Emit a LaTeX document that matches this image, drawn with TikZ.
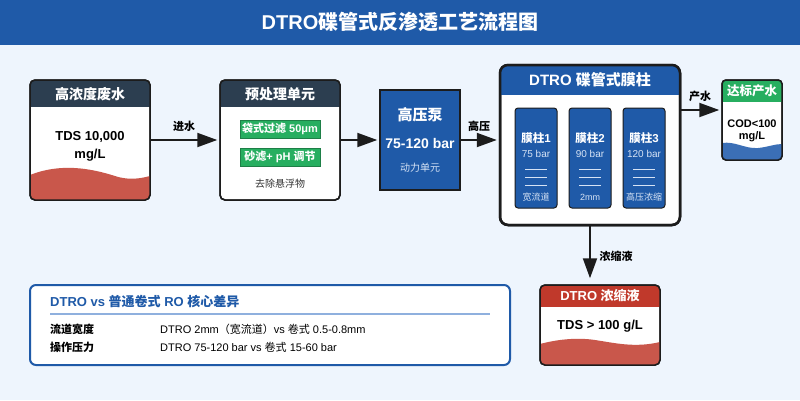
\documentclass[tikz,border=0pt]{standalone}
\usepackage{fontspec}
\setmainfont{Liberation Sans}
\newfontfamily\cjk{Noto Sans CJK SC}
\newcommand\zh[1]{{\cjk #1}}
\usetikzlibrary{arrows.meta}
\definecolor{bg}{HTML}{EEF5FD}
\definecolor{titleblue}{HTML}{1F5AA8}
\definecolor{darkhead}{HTML}{2C3E50}
\definecolor{wavered}{HTML}{C9574B}
\definecolor{headred}{HTML}{C0392B}
\definecolor{tagg}{HTML}{27AE60}
\definecolor{tagb}{HTML}{1E7F47}
\definecolor{bordc}{HTML}{1C1C1C}
\definecolor{lightt}{HTML}{D6E3F5}
\definecolor{waveblue}{HTML}{3B6FB6}
\definecolor{sepblue}{HTML}{8FB0DE}
\begin{document}
\begin{tikzpicture}[x=1pt,y=-1pt,
  card/.style={draw=bordc,line width=1.5pt,fill=white,rounded corners=5pt,inner sep=0pt},
  headtxt/.style={text=white,font=\bfseries\fontsize{14}{16}\selectfont},
  bodytxt/.style={text=black,font=\bfseries\fontsize{13}{18}\selectfont,align=center},
  tag/.style={fill=tagg,draw=tagb,line width=1pt,text=white,font=\bfseries\fontsize{11}{13}\selectfont,minimum width=80pt,minimum height=18pt,inner sep=0pt},
  arr/.style={draw=bordc,line width=2pt,-{Triangle[length=20pt,width=14pt]}},
  arrlab/.style={font=\bfseries\fontsize{11}{13}\selectfont,text=black},
  col/.style={fill=titleblue,draw=bordc,line width=1pt,rounded corners=3pt,minimum width=42pt,minimum height=100pt,inner sep=0pt},
  coltitle/.style={text=white,font=\bfseries\fontsize{11.5}{14}\selectfont},
  colsub/.style={text=lightt,font=\fontsize{10}{12}\selectfont},
  colnote/.style={text=lightt,font=\fontsize{9}{11}\selectfont},
  colline/.style={draw=lightt,line width=1pt},
  rowlab/.style={anchor=west,inner sep=0pt,font=\bfseries\fontsize{11}{13}\selectfont,text=black},
  rowval/.style={anchor=west,inner sep=0pt,font=\fontsize{11}{13}\selectfont,text=black}
]
\useasboundingbox (0,0) rectangle (800,400);
\fill[bg] (0,0) rectangle (800,400);
\fill[titleblue] (0,0) rectangle (800,45);
\node[text=white,font=\bfseries\fontsize{20}{24}\selectfont] (title) at (400,22) {DTRO\zh{碟管式反渗透工艺流程图}};

% ---- Box 1: feed
\node[card,minimum width=120pt,minimum height=120pt] (feed) at (90,140) {};
\begin{scope}
  \clip[rounded corners=5pt] (30,80) rectangle (150,200);
  \fill[darkhead] (30,80) rectangle (150,107);
  \fill[wavered] (30,175) .. controls (60,163) and (90,168) .. (115,176) .. controls (130,181) and (142,178) .. (150,176) -- (150,200) -- (30,200) -- cycle;
\end{scope}
\draw[bordc,line width=1.5pt,rounded corners=5pt] (30,80) rectangle (150,200);
\node[headtxt] (feedh) at (90,94) {\zh{高浓度废水}};
\node[bodytxt] (feedt) at (90,146) {TDS 10,000\\mg/L};

% ---- Box 2: pretreatment
\node[card,minimum width=120pt,minimum height=120pt] (pre) at (280,140) {};
\begin{scope}
  \clip[rounded corners=5pt] (220,80) rectangle (340,200);
  \fill[darkhead] (220,80) rectangle (340,107);
\end{scope}
\draw[bordc,line width=1.5pt,rounded corners=5pt] (220,80) rectangle (340,200);
\node[headtxt] (preh) at (280,94) {\zh{预处理单元}};
\node[tag] (t1) at (280,129) {\zh{袋式过滤} 50μm};
\node[tag] (t2) at (280,157) {\zh{砂滤}+ pH \zh{调节}};
\node[text=black!80,font=\fontsize{10}{12}\selectfont] (pret) at (280,184) {\zh{去除悬浮物}};

% ---- Pump
\node[fill=titleblue,draw=bordc,line width=1.5pt,minimum width=80pt,minimum height=100pt,inner sep=0pt] (pump) at (420,140) {};
\node[text=white,font=\bfseries\fontsize{15}{17}\selectfont] (pumph) at (420,115) {\zh{高压泵}};
\node[text=white,font=\bfseries\fontsize{14}{16}\selectfont] (pumpp) at (420,143) {75-120 bar};
\node[text=lightt,font=\fontsize{10}{12}\selectfont] (pumpn) at (420,168) {\zh{动力单元}};

% ---- DTRO module
\node[card,rounded corners=8pt,line width=2.5pt,minimum width=180pt,minimum height=160pt] (dtro) at (590,145) {};
\begin{scope}
  \clip[rounded corners=8pt] (500,65) rectangle (680,225);
  \fill[titleblue] (500,65) rectangle (680,95);
\end{scope}
\draw[bordc,line width=2.5pt,rounded corners=8pt] (500,65) rectangle (680,225);
\node[text=white,font=\bfseries\fontsize{15}{17}\selectfont] (dtroh) at (590,80) {DTRO \zh{碟管式膜柱}};

\foreach \cx/\n/\p/\note in {536/1/75 bar/\zh{宽流道},590/2/90 bar/2mm,644/3/120 bar/\zh{高压浓缩}}{
  \node[col] (col\n) at (\cx,158) {};
  \node[coltitle] (colt\n) at (\cx,138) {\zh{膜柱}\n};
  \node[colsub] (colp\n) at (\cx,154) {\p};
  \draw[colline] (\cx-11,169.5) -- (\cx+11,169.5);
  \draw[colline] (\cx-11,177.5) -- (\cx+11,177.5);
  \draw[colline] (\cx-11,185.5) -- (\cx+11,185.5);
  \node[colnote] (coln\n) at (\cx,197) {\note};
}

% ---- Product
\node[card,rounded corners=4pt,minimum width=60pt,minimum height=80pt] (prod) at (752,120) {};
\begin{scope}
  \clip[rounded corners=4pt] (722,80) rectangle (782,160);
  \fill[tagg] (722,80) rectangle (782,102);
  \fill[waveblue] (722,143) .. controls (735,141) and (745,149) .. (758,148) .. controls (768,147) and (775,144) .. (782,144) -- (782,160) -- (722,160) -- cycle;
\end{scope}
\draw[bordc,line width=1.5pt,rounded corners=4pt] (722,80) rectangle (782,160);
\node[text=white,font=\bfseries\fontsize{12.5}{15}\selectfont] (prodh) at (752,91) {\zh{达标产水}};
\node[text=black,font=\bfseries\fontsize{11}{12}\selectfont,align=center] (prodt) at (752,131) {COD<100\\mg/L};

% ---- Concentrate
\node[card,minimum width=120pt,minimum height=80pt] (conc) at (600,325) {};
\begin{scope}
  \clip[rounded corners=5pt] (540,285) rectangle (660,365);
  \fill[headred] (540,285) rectangle (660,307);
  \fill[wavered] (540,344) .. controls (555,340) and (575,337) .. (595,340) .. controls (615,343) and (635,348) .. (660,342) -- (660,365) -- (540,365) -- cycle;
\end{scope}
\draw[bordc,line width=1.5pt,rounded corners=5pt] (540,285) rectangle (660,365);
\node[text=white,font=\bfseries\fontsize{13}{15}\selectfont] (conch) at (600,296) {DTRO \zh{浓缩液}};
\node[text=black,font=\bfseries\fontsize{13}{15}\selectfont] (conct) at (600,326) {TDS > 100 g/L};

% ---- Comparison box
\node[draw=titleblue,line width=2pt,fill=white,rounded corners=6pt,minimum width=480pt,minimum height=80pt,inner sep=0pt] (cmp) at (270,325) {};
\node[anchor=west,inner sep=0pt,text=titleblue,font=\bfseries\fontsize{13}{15}\selectfont] (cmph) at (50,301) {DTRO vs \zh{普通卷式} RO \zh{核心差异}};
\draw[sepblue,line width=2pt] (50,314) -- (490,314);
\node[rowlab] (r1l) at (50,329) {\zh{流道宽度}};
\node[rowval] (r1v) at (160,329) {DTRO 2mm\zh{（宽流道）}vs \zh{卷式} 0.5-0.8mm};
\node[rowlab] (r2l) at (50,347) {\zh{操作压力}};
\node[rowval] (r2v) at (160,347) {DTRO 75-120 bar vs \zh{卷式} 15-60 bar};

% ---- Connectors
\draw[arr,shorten >=2pt] (feed.east) -- (pre.west);
\node[arrlab] (l1) at (184,126) {\zh{进水}};
\draw[arr,shorten >=2pt] (pre.east) -- (pump.west);
\draw[arr,shorten >=2pt] (pump.east) -- (pump.east -| dtro.west);
\node[arrlab] (l2) at (479,126) {\zh{高压}};
\coordinate (pout) at (700,110);
\draw[arr,shorten >=2pt] (pout -| dtro.east) -- (pout -| prod.west);
\node[arrlab] (l3) at (700,96) {\zh{产水}};
\draw[arr,shorten >=6pt] (dtro.south) -- (dtro.south |- conc.north);
\node[arrlab] (l4) at (616,256) {\zh{浓缩液}};
\end{tikzpicture}
\end{document}
